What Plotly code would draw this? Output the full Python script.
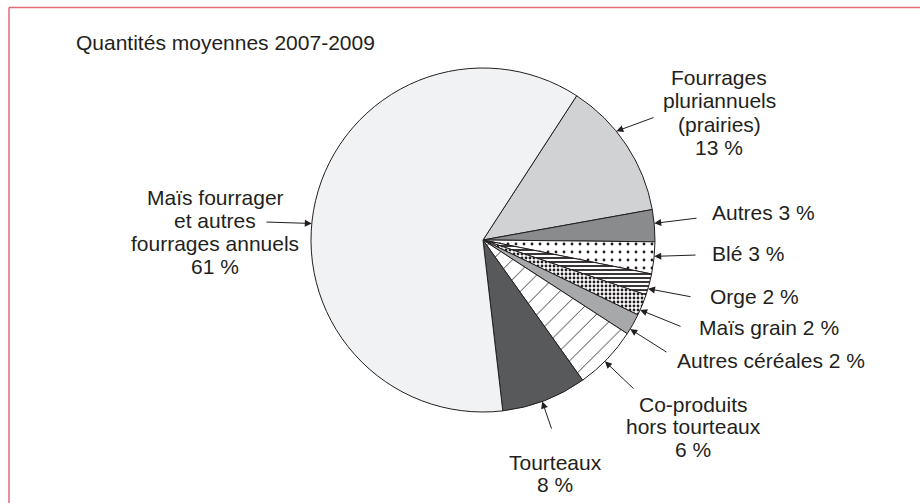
import math
import plotly.graph_objects as go

# ---- data ----
categories = ["Fourrages pluriannuels (prairies)", "Autres", "Blé", "Orge", "Maïs grain",
              "Autres céréales", "Co-produits hors tourteaux", "Tourteaux",
              "Maïs fourrager et autres fourrages annuels"]
shares = [13, 3, 3, 2, 2, 2, 6, 8, 61]
label_lines = [["Fourrages", "pluriannuels", "(prairies)", "13 %"],
               ["Autres 3 %"], ["Blé 3 %"], ["Orge 2 %"], ["Maïs grain 2 %"],
               ["Autres céréales 2 %"],
               ["Co-produits", "hors tourteaux", "6 %"],
               ["Tourteaux", "8 %"],
               ["Maïs fourrager", "et autres", "fourrages annuels", "61 %"]]
title_text = "Quantités moyennes 2007-2009"

# ---- style ----
W, H = 920, 503
CX, CY, R = 483, 240, 172
ROT = 33
TXT = "#231f20"
FONT = "Liberation Sans, Arial, sans-serif"
FS = 21

slice_colors = ["#d1d2d4", "#8a8b8d", "#ffffff", "#ffffff", "#ffffff",
                "#a7a8aa", "#ffffff", "#58595b", "#f1f2f4"]
pat_shapes = ["", "", ".", "-", ".", "", "/", "", ""]
pat_sizes = [8, 8, 8, 4, 4, 8, 14, 8, 8]
pat_solid = [0.3, 0.3, 0.1, 0.45, 0.4, 0.3, 0.06, 0.3, 0.3]

# label blocks: (x, first-line y, line step, anchor) in pixels
text_pos = [(719, 77, 23.5, "center"), (710, 212, 0, "left"), (710, 253, 0, "left"),
            (708, 296, 0, "left"), (697, 327, 0, "left"), (675, 360, 0, "left"),
            (693, 404, 22.5, "center"), (555, 462, 22, "center"), (215, 197, 23, "center")]
tails = [(655, 117), (698, 218), (697, 255), (692, 297), (682, 327),
         (668, 353), (635, 390), (552, 430), (265, 222)]
fracs = [0.38, 0.43, 0.45, 0.7, 0.75, 0.75, 0.55, 0.53, 0.465]


def px(x):
    return x / W


def py(y):
    return 1 - y / H


fig = go.Figure()
fig.add_trace(go.Pie(
    labels=categories, values=shares, sort=False, direction="clockwise",
    rotation=ROT, textinfo="none", hoverinfo="label+percent",
    domain=dict(x=[px(CX - R), px(CX + R)], y=[py(CY + R), py(CY - R)]),
    marker=dict(colors=slice_colors, line=dict(color="#231f20", width=1),
                pattern=dict(shape=pat_shapes, size=pat_sizes, solidity=pat_solid,
                             fgcolor="#231f20", fillmode="replace")),
    showlegend=False,
))


def text_ann(t, x, y, anchor):
    return dict(text=t, x=px(x), y=py(y), xref="paper", yref="paper",
                xanchor=anchor, yanchor="middle", showarrow=False,
                font=dict(family=FONT, size=FS, color=TXT))


annotations = [text_ann(title_text, 74, 43, "left")]

total = sum(shares)
cum = 0
for i, v in enumerate(shares):
    ang = math.radians(ROT + 360 * (cum + fracs[i] * v) / total)
    tipx = CX + R * math.sin(ang)
    tipy = CY - R * math.cos(ang)
    cum += v
    tx, ty, step, anc = text_pos[i]
    for j, line in enumerate(label_lines[i]):
        annotations.append(text_ann(line, tx, ty + j * step, anc))
    annotations.append(dict(text="", x=px(tipx), y=py(tipy), xref="paper", yref="paper",
                            ax=tails[i][0] - tipx, ay=tails[i][1] - tipy,
                            showarrow=True, arrowhead=2, arrowsize=1.4, arrowwidth=1,
                            arrowcolor=TXT))

fig.update_layout(
    width=W, height=H, margin=dict(l=0, r=0, t=0, b=0),
    paper_bgcolor="white", plot_bgcolor="white",
    annotations=annotations,
    shapes=[
        dict(type="line", xref="paper", yref="paper", x0=px(9), x1=1, y0=py(7.5), y1=py(7.5),
             line=dict(color="#e56b78", width=1.5)),
        dict(type="line", xref="paper", yref="paper", x0=px(9), x1=px(9), y0=0, y1=py(7.5),
             line=dict(color="#d61f3a", width=1)),
    ],
)

fig.write_html("out.html", config={"displayModeBar": False},
               post_script="document.body.style.margin='0';")
